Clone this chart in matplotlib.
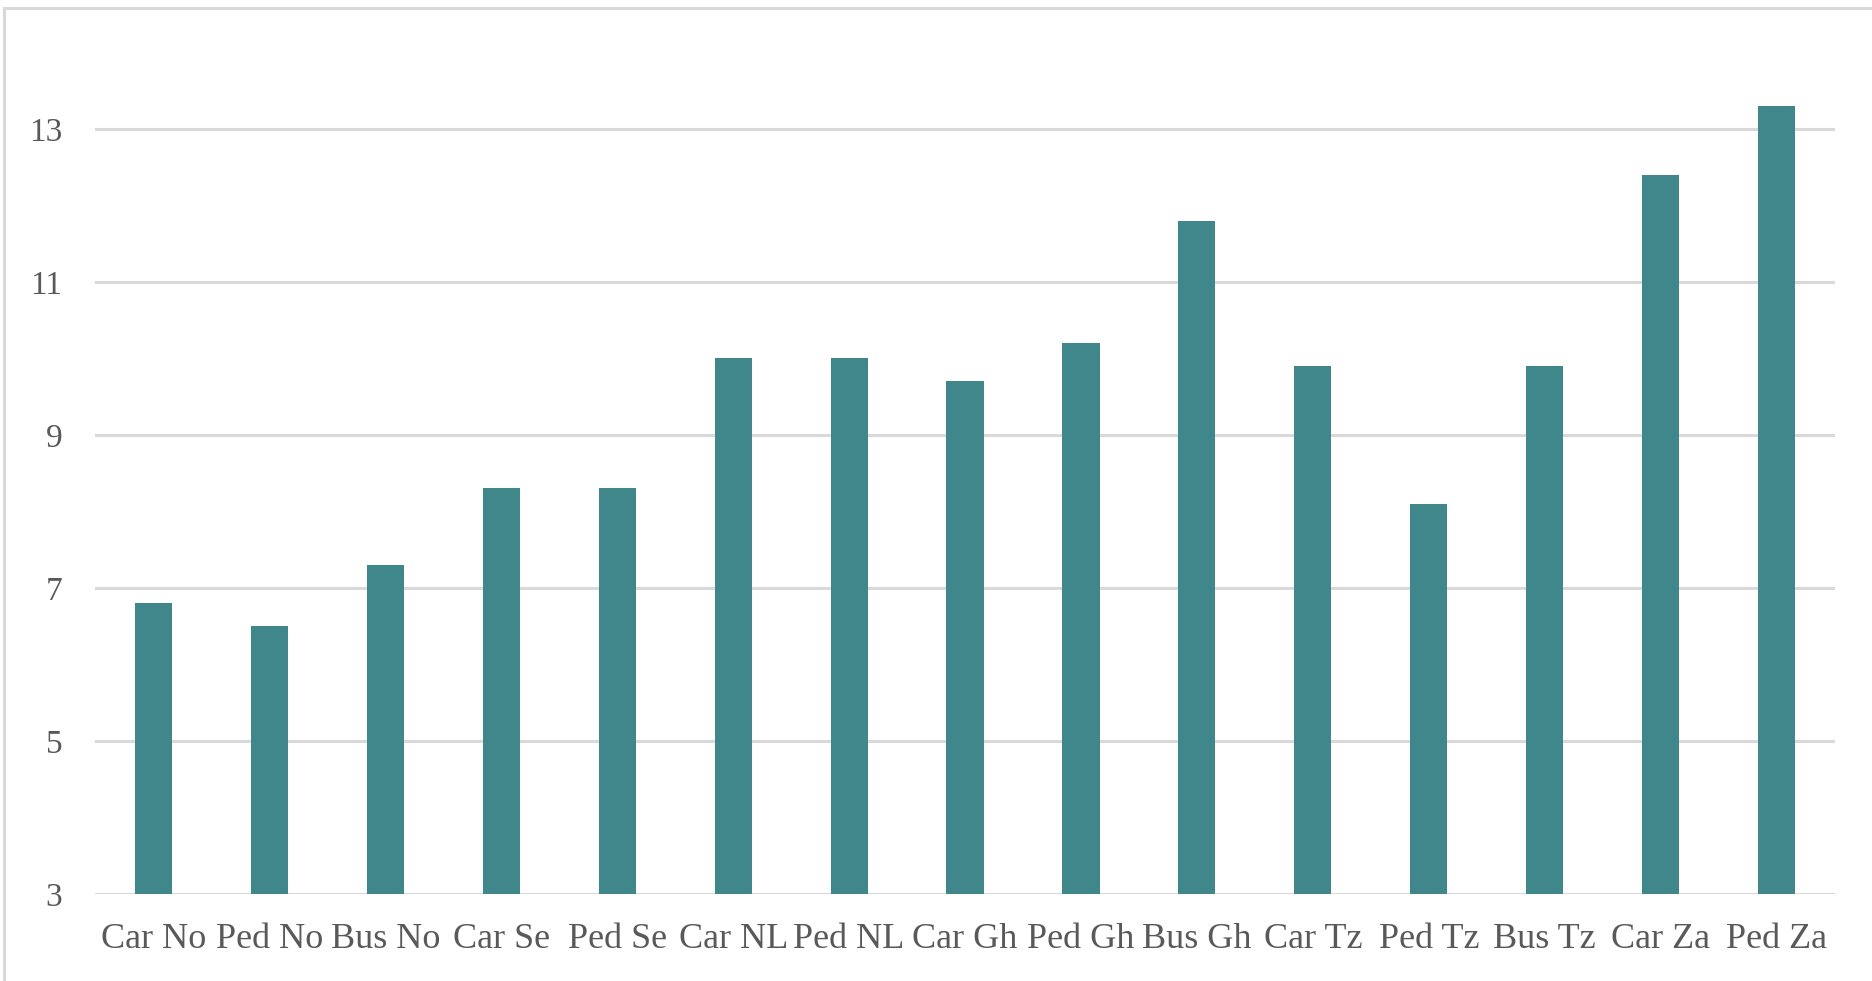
import matplotlib
matplotlib.use("Agg")
import matplotlib.pyplot as plt
from matplotlib.patches import Rectangle

categories = ["Car No", "Ped No", "Bus No", "Car Se", "Ped Se", "Car NL", "Ped NL",
              "Car Gh", "Ped Gh", "Bus Gh", "Car Tz", "Ped Tz", "Bus Tz", "Car Za", "Ped Za"]
values = [6.8, 6.5, 7.3, 8.3, 8.3, 10.0, 10.0, 9.7, 10.2, 11.8, 9.9, 8.1, 9.9, 12.4, 13.3]
y_ticks = [3, 5, 7, 9, 11, 13]

BAR = "#40878C"
GRID = "#D9D9D9"
TEXT = "#595959"

plt.rcParams["font.family"] = ["Liberation Serif", "DejaVu Serif"]

fig = plt.figure(figsize=(18.72, 9.81), dpi=100)
ax = fig.add_axes([0.051, 0.0887, 0.929, 0.858])

x = range(len(categories))
ax.bar(x, [v - 3 for v in values], bottom=3, width=0.32, color=BAR, zorder=3)

ax.set_xlim(-0.5, len(categories) - 0.5)
ax.set_ylim(3, 14)
ax.set_yticks(y_ticks)
ax.set_yticklabels([str(t) for t in y_ticks])
ax.set_xticks(list(x))
ax.set_xticklabels(categories)

ax.yaxis.grid(True, color=GRID, linewidth=2.2, zorder=0)
ax.set_axisbelow(True)
for s in ax.spines.values():
    s.set_visible(False)
ax.tick_params(axis="both", length=0, labelcolor=TEXT)
ax.tick_params(axis="x", labelsize=26, pad=21)
ax.tick_params(axis="y", labelsize=24, pad=24)

# chart frame
fig.patches.append(Rectangle((4 / 1872, -0.05), 1.2, 1 - 8 / 981 + 0.05,
                             transform=fig.transFigure, fill=False,
                             edgecolor=GRID, linewidth=2.2, zorder=0))

fig.savefig("out.png", dpi=100, facecolor="white")
